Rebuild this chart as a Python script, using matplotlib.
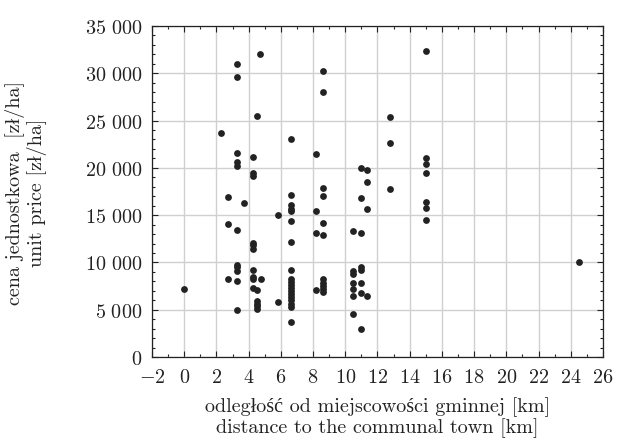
import matplotlib
matplotlib.use("Agg")
import matplotlib.pyplot as plt
from matplotlib.ticker import MultipleLocator, FuncFormatter

plt.rcParams['font.family'] = ['cmr10', 'Liberation Serif']
plt.rcParams['mathtext.fontset'] = 'cm'
plt.rcParams['axes.unicode_minus'] = False

# distance to communal town [km]
distance = [
    0.0,
    2.3, 2.7, 2.7, 2.7,
    3.3, 3.3, 3.3, 3.3, 3.3, 3.3, 3.3, 3.3, 3.3, 3.3, 3.3,
    3.7,
    4.3, 4.3, 4.3, 4.3, 4.3, 4.3, 4.3, 4.3, 4.3, 4.3,
    4.5, 4.5, 4.5, 4.5, 4.5, 4.5,
    4.7, 4.75,
    5.8, 5.8,
    6.6, 6.6, 6.6, 6.6, 6.6, 6.6, 6.6, 6.6, 6.6, 6.6, 6.6, 6.6, 6.6, 6.6,
    6.6, 6.6, 6.6, 6.6, 6.6,
    8.2, 8.2, 8.2, 8.2,
    8.6, 8.6, 8.6, 8.6, 8.6, 8.6, 8.6, 8.6, 8.6, 8.6, 8.6,
    10.5, 10.5, 10.5, 10.5, 10.5, 10.5, 10.5,
    11.0, 11.0, 11.0, 11.0, 11.0, 11.0, 11.0, 11.0,
    11.35, 11.35, 11.35, 11.35,
    12.8, 12.8, 12.8,
    15.0, 15.0, 15.0, 15.0, 15.0, 15.0, 15.0,
    24.5,
]

# unit price [zl/ha]
price = [
    7200,
    23700, 16900, 14100, 8200,
    31000, 29600, 21600, 20600, 20200, 13400, 9700, 9500, 9100, 8000, 5000,
    16300,
    21100, 19450, 19100, 12100, 11800, 11400, 9200, 8500, 8250, 7250,
    7050, 5950, 5650, 5350, 5100, 25500,
    32000, 8250,
    15000, 5850,
    23000, 17100, 16100, 15700, 15400, 14400, 12200, 9150, 8200, 7900,
    7600, 7300, 7000, 6700, 6350, 6000, 5650, 5300, 3750,
    21500, 15400, 13100, 7100,
    30200, 28000, 17900, 17050, 14200, 12900, 8300, 7800, 7500, 7200, 6900,
    13300, 9100, 8800, 7800, 7200, 6500, 4550,
    20000, 16800, 13100, 9500, 9150, 7800, 6750, 2950,
    19800, 18500, 15600, 6400,
    25400, 22600, 17800,
    32400, 21000, 20400, 19500, 16400, 15800, 14450,
    10000,
]

x_ticks = list(range(-2, 27, 2))
y_ticks = list(range(0, 35001, 5000))

fig = plt.figure(figsize=(6.19, 4.39), dpi=100)
ax = fig.add_axes([0.2456, 0.1845, 0.7285, 0.754])

ax.scatter(distance, price, s=24, color='#222222', zorder=3, linewidths=0)

ax.set_xlim(-2, 26)
ax.set_ylim(0, 35000)
ax.set_xticks(x_ticks)
ax.set_yticks(y_ticks)
ax.xaxis.set_minor_locator(MultipleLocator(1))
ax.yaxis.set_minor_locator(MultipleLocator(1000))

def xfmt(v, pos):
    return r"$%d$" % int(round(v))

def yfmt(v, pos):
    v = int(round(v))
    if v >= 1000:
        return r"$%d\ %03d$" % (v // 1000, v % 1000)
    return r"$%d$" % v

ax.xaxis.set_major_formatter(FuncFormatter(xfmt))
ax.yaxis.set_major_formatter(FuncFormatter(yfmt))

ax.grid(True, which='major', color='#d0d0d0', linewidth=1.0, zorder=0)
ax.set_axisbelow(True)
ax.tick_params(which='both', direction='in', top=True, right=True,
               labelsize=14.5, width=0.8, color='#222222', labelcolor='#222222')
ax.tick_params(axis='y', which='major', length=4, pad=7)
ax.tick_params(axis='x', which='major', length=4, pad=8)
ax.tick_params(which='minor', length=2)
for sp in ax.spines.values():
    sp.set_linewidth(0.9)
    sp.set_color('#222222')

ax.set_xlabel("odległość od miejscowości gminnej [km]\ndistance to the communal town [km]",
              fontsize=14.5, linespacing=1.1, labelpad=7, color='#222222')
ax.set_ylabel("cena jednostkowa  [zł/ha]\nunit price [zł/ha]",
              fontsize=14.5, linespacing=1.15, labelpad=27, color='#222222')

fig.savefig("out.png", dpi=100)
